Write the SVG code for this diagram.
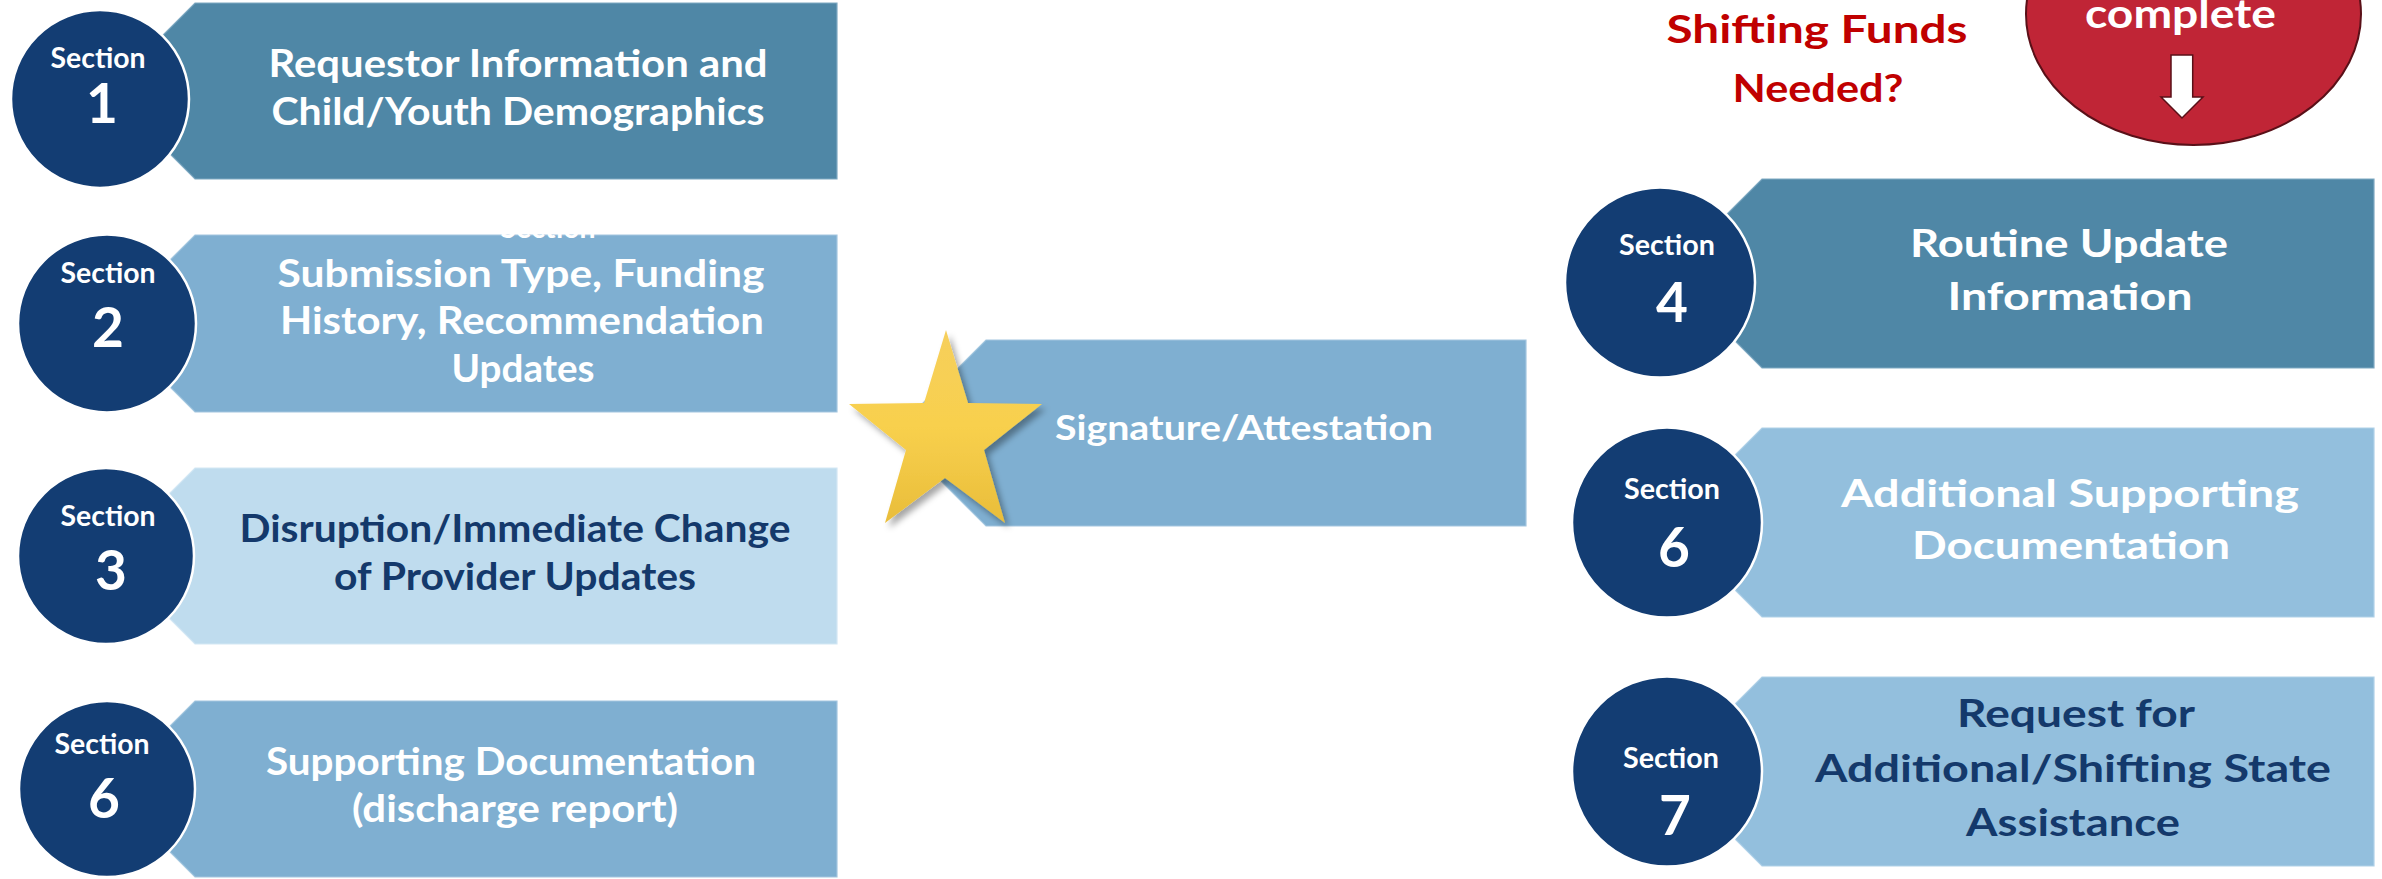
<svg xmlns="http://www.w3.org/2000/svg" width="2382" height="879" viewBox="0 0 2382 879">
  <style>
    text { font-family: Lato, "Open Sans", "Liberation Sans", sans-serif; font-weight: 700; }
    .badge { fill: #133d73; stroke: #ffffff; stroke-width: 2.5; }
    .sec { fill: #ffffff; font-size: 28px; text-anchor: middle; }
    .num { fill: #ffffff; font-size: 55px; text-anchor: middle; }
    .lbl { font-size: 38px; text-anchor: middle; }
    .light { fill: #ffffff; }
    .dark { fill: #14396b; }
    .steel { fill: #4f87a6; stroke: #7fa9c2; stroke-width: 1.2; }
    .sky { fill: #7fafd1; stroke: #a3c6df; stroke-width: 1.2; }
    .pale { fill: #bfdcee; stroke: #d3e7f4; stroke-width: 1.2; }
    .mist { fill: #93bfdd; stroke: #b0d1e8; stroke-width: 1.2; }
    .red { fill: #c00000; font-size: 39px; text-anchor: middle; }
  </style>
  <defs>
    <linearGradient id="gold" x1="0" y1="0" x2="0" y2="1">
      <stop offset="0" stop-color="#f6cf5c"/>
      <stop offset="0.5" stop-color="#f8d04d"/>
      <stop offset="1" stop-color="#e9bd3a"/>
    </linearGradient>
    <filter id="shadow" x="-20%" y="-20%" width="150%" height="150%">
      <feDropShadow dx="4" dy="5" stdDeviation="3" flood-color="#000000" flood-opacity="0.35"/>
    </filter>
  </defs>

  <rect width="2382" height="879" fill="#ffffff"/>

  <!-- left column -->
  <g id="node-s1">
    <polygon class="steel" points="837,3 837,179 195,179 107,91 195,3"/>
    <circle class="badge" cx="100" cy="99" r="89"/>
    <text class="sec" x="98" y="68" textLength="95" lengthAdjust="spacingAndGlyphs">Section</text>
    <text class="num" x="102" y="123">1</text>
    <text class="lbl light" x="518" y="77" textLength="499" lengthAdjust="spacingAndGlyphs">Requestor Information and</text>
    <text class="lbl light" x="518" y="125" textLength="493" lengthAdjust="spacingAndGlyphs">Child/Youth Demographics</text>
  </g>

  <g id="node-s2">
    <polygon class="sky" points="837,235 837,412 195,412 106.5,323.5 195,235"/>
    <text class="sec" x="548" y="237.5" textLength="95" lengthAdjust="spacingAndGlyphs">Section</text>
    <circle class="badge" cx="107" cy="323.5" r="89"/>
    <text class="sec" x="108" y="283" textLength="95" lengthAdjust="spacingAndGlyphs">Section</text>
    <text class="num" x="108" y="347">2</text>
    <text class="lbl light" x="521" y="287" textLength="487" lengthAdjust="spacingAndGlyphs">Submission Type, Funding</text>
    <text class="lbl light" x="522" y="334" textLength="484" lengthAdjust="spacingAndGlyphs">History, Recommendation</text>
    <text class="lbl light" x="523" y="382" textLength="143" lengthAdjust="spacingAndGlyphs">Updates</text>
  </g>

  <g id="node-s3">
    <polygon class="pale" points="837,468 837,644 195,644 107,556 195,468"/>
    <circle class="badge" cx="106" cy="556" r="88"/>
    <text class="sec" x="108" y="526" textLength="95" lengthAdjust="spacingAndGlyphs">Section</text>
    <text class="num" x="111" y="590">3</text>
    <text class="lbl dark" x="515" y="542" textLength="551" lengthAdjust="spacingAndGlyphs">Disruption/Immediate  Change</text>
    <text class="lbl dark" x="515" y="590" textLength="362" lengthAdjust="spacingAndGlyphs">of Provider Updates</text>
  </g>

  <g id="node-s6-discharge">
    <polygon class="sky" points="837,701 837,877 195,877 107,789 195,701"/>
    <circle class="badge" cx="107" cy="789" r="88"/>
    <text class="sec" x="102" y="754" textLength="95" lengthAdjust="spacingAndGlyphs">Section</text>
    <text class="num" x="104" y="818">6</text>
    <text class="lbl light" x="511" y="775" textLength="490" lengthAdjust="spacingAndGlyphs">Supporting Documentation</text>
    <text class="lbl light" x="515" y="822" textLength="326" lengthAdjust="spacingAndGlyphs">(discharge report)</text>
  </g>

  <!-- centre: signature -->
  <g id="node-signature">
    <polygon class="sky" points="1526,340 1526,526 986,526 893,433 986,340"/>
    <polygon fill="url(#gold)" filter="url(#shadow)" points="946,330 968,403 1042,404 984,450 1005,523 945,478 885,523 906,450 849,404 924,403"/>
    <text class="light" x="1244" y="440" font-size="35" text-anchor="middle" textLength="378" lengthAdjust="spacingAndGlyphs">Signature/Attestation</text>
  </g>

  <!-- right column -->
  <g id="node-shifting">
    <text class="red" x="1817" y="43" textLength="301" lengthAdjust="spacingAndGlyphs">Shifting Funds</text>
    <text class="red" x="1818" y="102" textLength="171" lengthAdjust="spacingAndGlyphs">Needed?</text>
  </g>

  <g id="node-complete">
    <ellipse cx="2193.5" cy="14" rx="167.5" ry="131" fill="#c02536" stroke="#5a1018" stroke-width="2"/>
    <text class="light" x="2180.5" y="28" font-size="40" text-anchor="middle" textLength="191" lengthAdjust="spacingAndGlyphs">complete</text>
  </g>

  <g id="node-s4">
    <polygon class="steel" points="2374,179 2374,368 1762,368 1667.5,273.5 1762,179"/>
    <circle class="badge" cx="1660" cy="282.5" r="95"/>
    <text class="sec" x="1667" y="255" textLength="96" lengthAdjust="spacingAndGlyphs">Section</text>
    <text class="num" x="1672" y="322">4</text>
    <text class="lbl light" x="2069" y="257" textLength="318" lengthAdjust="spacingAndGlyphs">Routine Update</text>
    <text class="lbl light" x="2070" y="310" textLength="245" lengthAdjust="spacingAndGlyphs">Information</text>
  </g>

  <g id="node-s6-additional">
    <polygon class="mist" points="2374,428 2374,617 1762,617 1667.5,522.5 1762,428"/>
    <circle class="badge" cx="1667" cy="522.5" r="95"/>
    <text class="sec" x="1672" y="499" textLength="96" lengthAdjust="spacingAndGlyphs">Section</text>
    <text class="num" x="1674" y="567">6</text>
    <text class="lbl light" x="2070" y="507" textLength="458" lengthAdjust="spacingAndGlyphs">Additional  Supporting</text>
    <text class="lbl light" x="2071" y="559" textLength="318" lengthAdjust="spacingAndGlyphs">Documentation</text>
  </g>

  <g id="node-s7">
    <polygon class="mist" points="2374,677 2374,866 1762,866 1667.5,771.5 1762,677"/>
    <circle class="badge" cx="1667" cy="771.5" r="95"/>
    <text class="sec" x="1671" y="768" textLength="96" lengthAdjust="spacingAndGlyphs">Section</text>
    <text class="num" x="1675" y="835">7</text>
    <text class="lbl dark" x="2076" y="727" textLength="238" lengthAdjust="spacingAndGlyphs">Request for</text>
    <text class="lbl dark" x="2073" y="782" textLength="516" lengthAdjust="spacingAndGlyphs">Additional/Shifting State</text>
    <text class="lbl dark" x="2073" y="836" textLength="214" lengthAdjust="spacingAndGlyphs">Assistance</text>
  </g>

  <!-- downward arrow inside the red badge -->
  <g id="connectors">
    <polygon points="2171,55 2192.7,55 2192.7,97 2203,97 2182,118 2161,97 2171,97" fill="#ffffff" stroke="#5a1018" stroke-width="1.5" stroke-linejoin="miter"/>
  </g>
</svg>
